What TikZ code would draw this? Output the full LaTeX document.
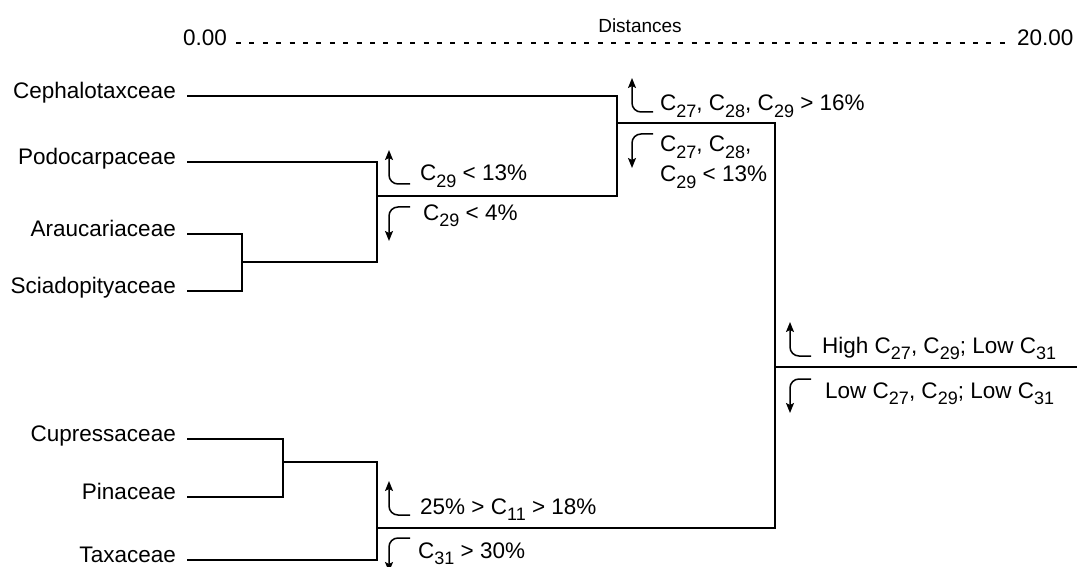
\documentclass[tikz,border=0pt]{standalone}
\usepackage{fontspec}
\setmainfont{Liberation Sans}
\usetikzlibrary{arrows.meta}
\tikzset{
  branch/.style={line width=2.2pt},
  leaf/.style={anchor=mid east,inner xsep=11pt,inner ysep=0pt},
  note/.style={anchor=base west,inner sep=0pt},
  hookline/.style={line width=1.5pt,rounded corners=9pt,-{Stealth[length=10pt,width=8pt,inset=2pt]}},
  uphook/.pic={\draw[hookline] (0,0) -| (-21,-34);},
  downhook/.pic={\draw[hookline] (0,0) -| (-21,34);},
}
\newcommand{\Cn}[1]{C\raisebox{-6.5pt}{\fontsize{18}{20}\selectfont #1}}

\begin{document}
\begin{tikzpicture}[x=1pt,y=-1pt,every node/.style={font=\fontsize{22.5}{27}\selectfont}]
  \useasboundingbox (0,0) rectangle (1077,567);
  % distance scale
  \node[anchor=mid east,inner xsep=9pt] (zero) at (236,43) {0.00};
  \node[anchor=mid west,inner xsep=9pt] (twenty) at (1008,43) {20.00};
  \node[anchor=base,font=\fontsize{19}{22}\selectfont] (dist) at (640,33) {Distances};
  \draw[line width=1.2pt,dash pattern=on 5pt off 8.4pt] (zero.mid east) -- (twenty.mid west);
  % families
  \node[leaf] (ceph) at (187,96) {Cephalotaxceae};
  \node[leaf] (podo) at (187,162) {Podocarpaceae};
  \node[leaf] (arau) at (187,234) {Araucariaceae};
  \node[leaf] (scia) at (187,291) {Sciadopityaceae};
  \node[leaf] (cupr) at (187,439) {Cupressaceae};
  \node[leaf] (pina) at (187,497) {Pinaceae};
  \node[leaf] (taxa) at (187,560) {Taxaceae};
  % clusters
  \coordinate (cA) at (242,262);
  \coordinate (cP) at (377,196);
  \coordinate (cC) at (617,123);
  \coordinate (cCu) at (283,462);
  \coordinate (cT) at (377,528);
  \coordinate (cR) at (775,367);
  \coordinate (rootend) at (1077,367);
  \draw[branch] (arau.mid east) -| (cA) |- (scia.mid east);
  \draw[branch] (podo.mid east) -| (cP) |- (cA);
  \draw[branch] (ceph.mid east) -| (cC) |- (cP);
  \draw[branch] (cupr.mid east) -| (cCu) |- (pina.mid east);
  \draw[branch] (cCu) -| (cT) |- (taxa.mid east);
  \draw[branch] (cC) -| (cR) |- (cT);
  \draw[branch] (cR) -- (rootend);
  % split markers
  \pic (h1) at (410,184) {uphook};
  \pic (h2) at (410,207) {downhook};
  \pic (h3) at (653,112) {uphook};
  \pic (h4) at (653,134) {downhook};
  \pic (h5) at (811,356) {uphook};
  \pic (h6) at (811,379) {downhook};
  \pic (h7) at (410,515) {uphook};
  \pic (h8) at (410,538) {downhook};
  \node[note] (n1) at (420,181) {\Cn{29} < 13\%};
  \node[note] (n2) at (423,220) {\Cn{29} < 4\%};
  \node[note] (n3) at (660,111) {\Cn{27}, \Cn{28}, \Cn{29} > 16\%};
  \node[note] (n4) at (660,152) {\Cn{27}, \Cn{28},};
  \node[note] (n4b) at (660,182) {\Cn{29} < 13\%};
  \node[note] (n5) at (822,353) {High \Cn{27}, \Cn{29}; Low \Cn{31}};
  \node[note] (n6) at (825,398) {Low \Cn{27}, \Cn{29}; Low \Cn{31}};
  \node[note] (n7) at (420,514) {25\% > \Cn{11} > 18\%};
  \node[note] (n8) at (418,558) {\Cn{31} > 30\%};
\end{tikzpicture}
\end{document}
